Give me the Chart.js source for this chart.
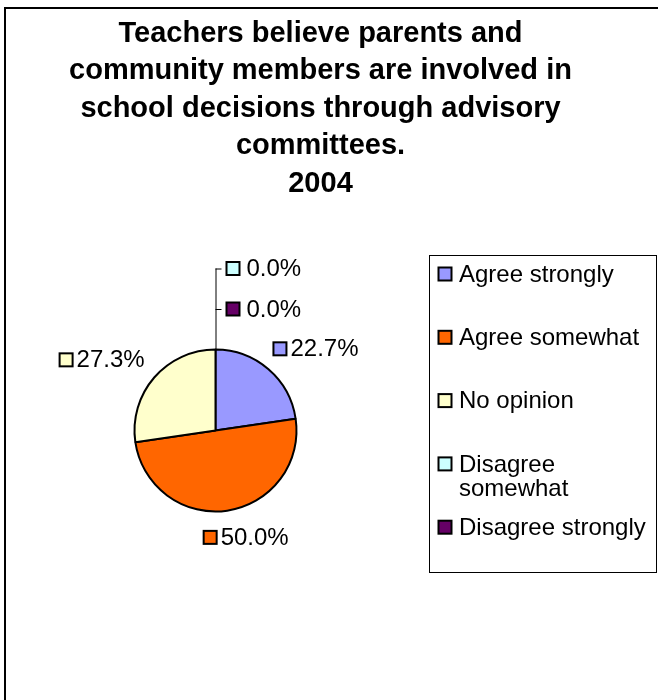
<!DOCTYPE html>
<html>
<head>
<meta charset="utf-8">
<script src="https://cdn.jsdelivr.net/npm/chart.js@4"></script>
<style>
  html, body { margin: 0; padding: 0; background: #fff; }
  canvas { display: block; }
</style>
</head>
<body>
<canvas id="grafico" width="658" height="700"></canvas>
<script>
// dados do grafico
const categorias = ['Agree strongly', 'Agree somewhat', 'No opinion', 'Disagree somewhat', 'Disagree strongly'];
const percentuais = [22.7, 50.0, 27.3, 0.0, 0.0];
const cores = ['#9999FF', '#FF6600', '#FFFFCC', '#CCFFFF', '#660066'];
const tituloLinhas = [
  'Teachers believe parents and',
  'community members are involved in',
  'school decisions through advisory',
  'committees.',
  '2004'
];

const FONTE = '"Liberation Sans", Arial, sans-serif';

// quadradinho com a cor da fatia
function quadrado(ctx, x, y, cor) {
  ctx.fillStyle = cor;
  ctx.fillRect(x, y - 6.5, 13, 13);
  ctx.lineWidth = 2;
  ctx.strokeStyle = '#000';
  ctx.strokeRect(x, y - 6.5, 13, 13);
}

// moldura e titulo
const molduraTitulo = {
  id: 'molduraTitulo',
  beforeDraw(chart) {
    const ctx = chart.ctx;
    ctx.save();
    ctx.fillStyle = '#fff';
    ctx.fillRect(0, 0, chart.width, chart.height);
    ctx.lineWidth = 2;
    ctx.strokeStyle = '#000';
    ctx.strokeRect(5, 8, 800, 800);

    ctx.fillStyle = '#000';
    ctx.font = 'bold 29px ' + FONTE;
    ctx.textAlign = 'center';
    ctx.textBaseline = 'alphabetic';
    tituloLinhas.forEach((linha, i) => {
      ctx.fillText(linha, 320.5, 41.5 + i * 37.5);
    });
    ctx.restore();
  }
};

// rotulos de porcentagem ao redor da pizza
const rotulos = {
  id: 'rotulos',
  afterDatasetsDraw(chart) {
    const ctx = chart.ctx;
    const meta = chart.getDatasetMeta(0);
    const valores = chart.data.datasets[0].data;
    const fundo = chart.data.datasets[0].backgroundColor;
    ctx.save();
    ctx.font = '24px ' + FONTE;
    ctx.textBaseline = 'middle';
    ctx.textAlign = 'left';

    const zeros = [];
    meta.data.forEach((arco, i) => {
      const { x, y, startAngle, endAngle, outerRadius } = arco.getProps(['x', 'y', 'startAngle', 'endAngle', 'outerRadius'], true);
      const texto = valores[i].toFixed(1) + '%';
      if (valores[i] === 0) {
        zeros.push({ i, texto, x, y, outerRadius });
        return;
      }
      const meio = (startAngle + endAngle) / 2;
      const dx = Math.cos(meio);
      const dy = Math.sin(meio);
      const r = outerRadius + 20;
      const w = 17 + ctx.measureText(texto).width;
      const h = 14;
      // desloca a caixa para fora, mais forte na horizontal
      const cx = x + r * dx + (w / 2) * Math.sign(dx) * Math.sqrt(Math.abs(dx));
      const cy = y + r * dy + (h / 2) * dy;
      const esq = cx - w / 2;
      quadrado(ctx, esq, cy, fundo[i]);
      ctx.fillStyle = '#000';
      ctx.fillText(texto, esq + 17, cy + 1);
    });

    // fatias vazias: empilhadas acima do topo com linha guia
    if (zeros.length) {
      const { x, y, outerRadius } = zeros[0];
      const topo = y - outerRadius;
      const posY = zeros.map((z, k) => topo - 40.5 * (zeros.length - k));
      ctx.strokeStyle = '#000';
      ctx.lineWidth = 1;
      ctx.beginPath();
      ctx.moveTo(x + 0.5, topo);
      ctx.lineTo(x + 0.5, posY[0]);
      posY.forEach(py => {
        ctx.moveTo(x, py + 0.5);
        ctx.lineTo(x + 6, py + 0.5);
      });
      ctx.stroke();
      zeros.forEach((z, k) => {
        quadrado(ctx, x + 11, posY[k], fundo[z.i]);
        ctx.fillStyle = '#000';
        ctx.fillText(z.texto, x + 31, posY[k] + 1);
      });
    }
    ctx.restore();
  }
};

// legenda em caixa a direita
const legendaCaixa = {
  id: 'legendaCaixa',
  afterDraw(chart) {
    const ctx = chart.ctx;
    const caixa = { x: 429.5, y: 255.5, w: 227, h: 317 };
    ctx.save();
    ctx.lineWidth = 1;
    ctx.strokeStyle = '#000';
    ctx.strokeRect(caixa.x, caixa.y, caixa.w, caixa.h);
    ctx.font = '24px ' + FONTE;
    ctx.textBaseline = 'middle';
    const larguraMax = caixa.x + caixa.w - 459 - 4;
    chart.data.labels.forEach((nome, i) => {
      const cy = caixa.y + 18.5 + i * 63.3;
      quadrado(ctx, 438.5, cy, chart.data.datasets[0].backgroundColor[i]);
      ctx.fillStyle = '#000';
      // quebra de linha quando o nome nao cabe
      const palavras = nome.split(' ');
      const linhas = [];
      let atual = '';
      palavras.forEach(p => {
        const teste = atual ? atual + ' ' + p : p;
        if (ctx.measureText(teste).width > larguraMax && atual) {
          linhas.push(atual);
          atual = p;
        } else {
          atual = teste;
        }
      });
      linhas.push(atual);
      linhas.forEach((l, k) => ctx.fillText(l, 459, cy + 1 + k * 24));
    });
    ctx.restore();
  }
};

new Chart(document.getElementById('grafico'), {
  type: 'pie',
  data: {
    labels: categorias,
    datasets: [{
      data: percentuais,
      backgroundColor: cores,
      borderColor: '#000',
      borderWidth: 2,
      radius: 81
    }]
  },
  options: {
    responsive: false,
    animation: false,
    events: [],
    layout: {
      padding: { left: 100, right: 327, top: 330, bottom: 169 }
    },
    plugins: {
      legend: { display: false },
      title: { display: false },
      tooltip: { enabled: false }
    }
  },
  plugins: [molduraTitulo, rotulos, legendaCaixa]
});
</script>
</body>
</html>
